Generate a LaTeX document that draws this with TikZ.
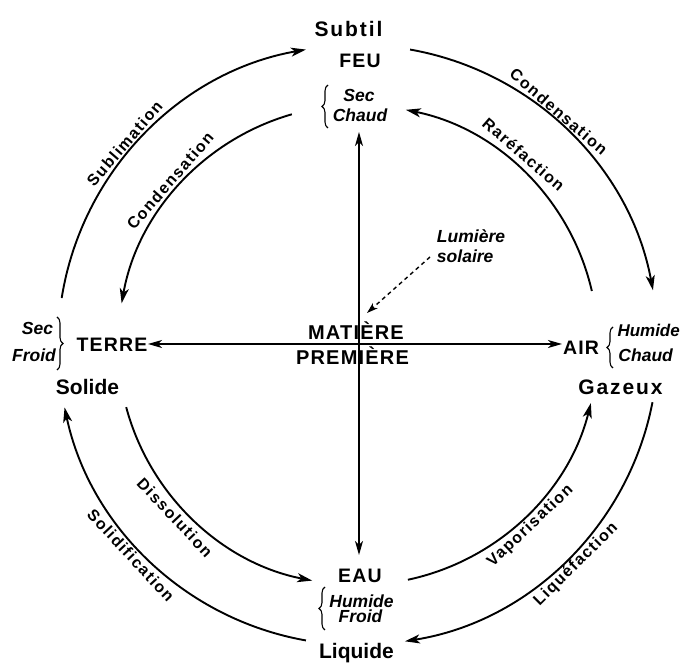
\documentclass[tikz,border=0pt]{standalone}
\usepackage{fontspec}
\setmainfont{Liberation Sans}
\newfontfamily\arcf[LetterSpace=9]{Liberation Sans}
\newfontfamily\capf[LetterSpace=6]{Liberation Sans}
\newfontfamily\widef[LetterSpace=9]{Liberation Sans}
\usetikzlibrary{arrows.meta,decorations.pathreplacing}
\begin{document}
\begin{tikzpicture}[x=1pt,y=1pt,
  every node/.style={inner sep=0pt,outer sep=0pt},
  statelab/.style={font=\fontsize{21}{22}\selectfont\bfseries,anchor=base},
  widestate/.style={font=\widef\fontsize{21}{22}\selectfont\bfseries,anchor=base},
  elem/.style={font=\capf\fontsize{19.5}{20}\selectfont\bfseries,anchor=base},
  matlab/.style={font=\capf\fontsize{20}{20}\selectfont\bfseries,anchor=base},
  qual/.style={font=\fontsize{17.5}{18}\selectfont\bfseries\itshape,anchor=base},
  arclab/.style={font=\arcf\fontsize{16}{16}\selectfont\bfseries,text height=11.5pt,text depth=0pt,anchor=center},
  arcline/.style={line width=1.9pt,-{Stealth[length=15pt,width=9pt,inset=4pt]}},
  axisline/.style={line width=1.4pt,{Stealth[length=14pt,width=8pt,inset=4pt]}-{Stealth[length=14pt,width=8pt,inset=4pt]}},
  sunline/.style={line width=1.4pt,dash pattern=on 4pt off 3.5pt,-{Stealth[length=11pt,width=7pt,inset=3pt]}},
  bracestyle/.style={decorate,decoration={brace,amplitude=6pt},line width=1.1pt}
]
\useasboundingbox (-358,-321) rectangle (323,345);

% --- state names
\node[widestate] (subtil) at (-9.5,308) {Subtil};
\node[statelab] (solide) at (-270.5,-50) {Solide};
\node[widestate] (gazeux) at (262.5,-50) {Gazeux};
\node[statelab] (liquide) at (-1.5,-314) {Liquide};

% --- elements
\node[elem] (feu) at (2,277) {FEU};
\node[elem] (terre) at (-246,-7) {TERRE};
\node[elem] (air) at (223,-10) {AIR};
\node[elem] (eau) at (2,-238) {EAU};

% --- qualities
\node[qual] (secT) at (1,243) {Sec};
\node[qual] (chaudT) at (2,223) {Chaud};
\node[qual] (secL) at (-320.5,10) {Sec};
\node[qual] (froidL) at (-324,-17) {Froid};
\node[qual,anchor=base west,font=\fontsize{17}{18}\selectfont\bfseries\itshape] (humideR) at (259.5,8) {Humide};
\node[qual,anchor=base west] (chaudR) at (260.5,-17) {Chaud};
\node[qual] (humideB) at (3.5,-263) {Humide};
\node[qual] (froidB) at (2.5,-278) {Froid};

% --- braces
\draw[bracestyle] (-30,217) -- (-30,260);
\draw[bracestyle] (-301,28) -- (-301,-25);
\draw[bracestyle] (255,-23) -- (255,18);
\draw[bracestyle] (-33,-285) -- (-33,-242);

% --- centre
\node[matlab] (matiere) at (-2,5) {MATIÈRE};
\node[matlab] (premiere) at (-5.5,-20) {PREMIÈRE};

% --- sunlight
\node[qual,anchor=base west] (lum) at (79,102) {Lumière};
\node[qual,anchor=base west] (sol) at (79,82) {solaire};
\coordinate (sunS) at (72,88);
\coordinate (sunE) at (9,32);
\draw[sunline] (sunS) -- (sunE);

% --- axes
\coordinate (axN) at (1,213);
\coordinate (axS) at (1,-210);
\coordinate (axW) at (-210,1);
\coordinate (axE) at (204,1);
\draw[axisline] (axS) -- (axN);
\draw[axisline] (axW) -- (axE);

% --- outer arcs (clockwise)
\coordinate (o1) at (171:300);
\coordinate (o2) at (80:300);
\coordinate (o3) at (-11:300);
\coordinate (o4) at (-100:300);
\draw[arcline] (o1) arc[start angle=171,end angle=100,radius=300];
\draw[arcline] (o2) arc[start angle=80,end angle=10.5,radius=300];
\draw[arcline] (o3) arc[start angle=-11,end angle=-81,radius=300];
\draw[arcline] (o4) arc[start angle=-100,end angle=-168,radius=300];

% --- inner arcs (counter-clockwise)
\coordinate (i1) at (106:240);
\coordinate (i2) at (13:240);
\coordinate (i3) at (-78:240);
\coordinate (i4) at (195:240);
\draw[arcline] (i1) arc[start angle=106,end angle=170,radius=240];
\draw[arcline] (i2) arc[start angle=13,end angle=78.5,radius=240];
\draw[arcline] (i3) arc[start angle=-78,end angle=-14,radius=240];
\draw[arcline] (i4) arc[start angle=195,end angle=259,radius=240];

% --- arc labels
\node[arclab,rotate=49.2] (lsub) at (139.2:308.5) {Sublimation};
\node[arclab,rotate=48.9] (lcondi) at (138.9:249.5) {Condensation};
\node[arclab,rotate=-40.7] (lcondo) at (49.3:308) {Condensation};
\node[arclab,rotate=-41] (lrar) at (49:252.5) {Raréfaction};
\node[arclab,rotate=-46.7] (ldis) at (223.3:251.5) {Dissolution};
\node[arclab,rotate=-47.2] (lsol) at (222.8:309.5) {Solidification};
\node[arclab,rotate=43.6] (lvap) at (313.6:248.5) {Vaporisation};
\node[arclab,rotate=44.8] (lliq) at (314.8:308) {Liquéfaction};
\end{tikzpicture}
\end{document}
